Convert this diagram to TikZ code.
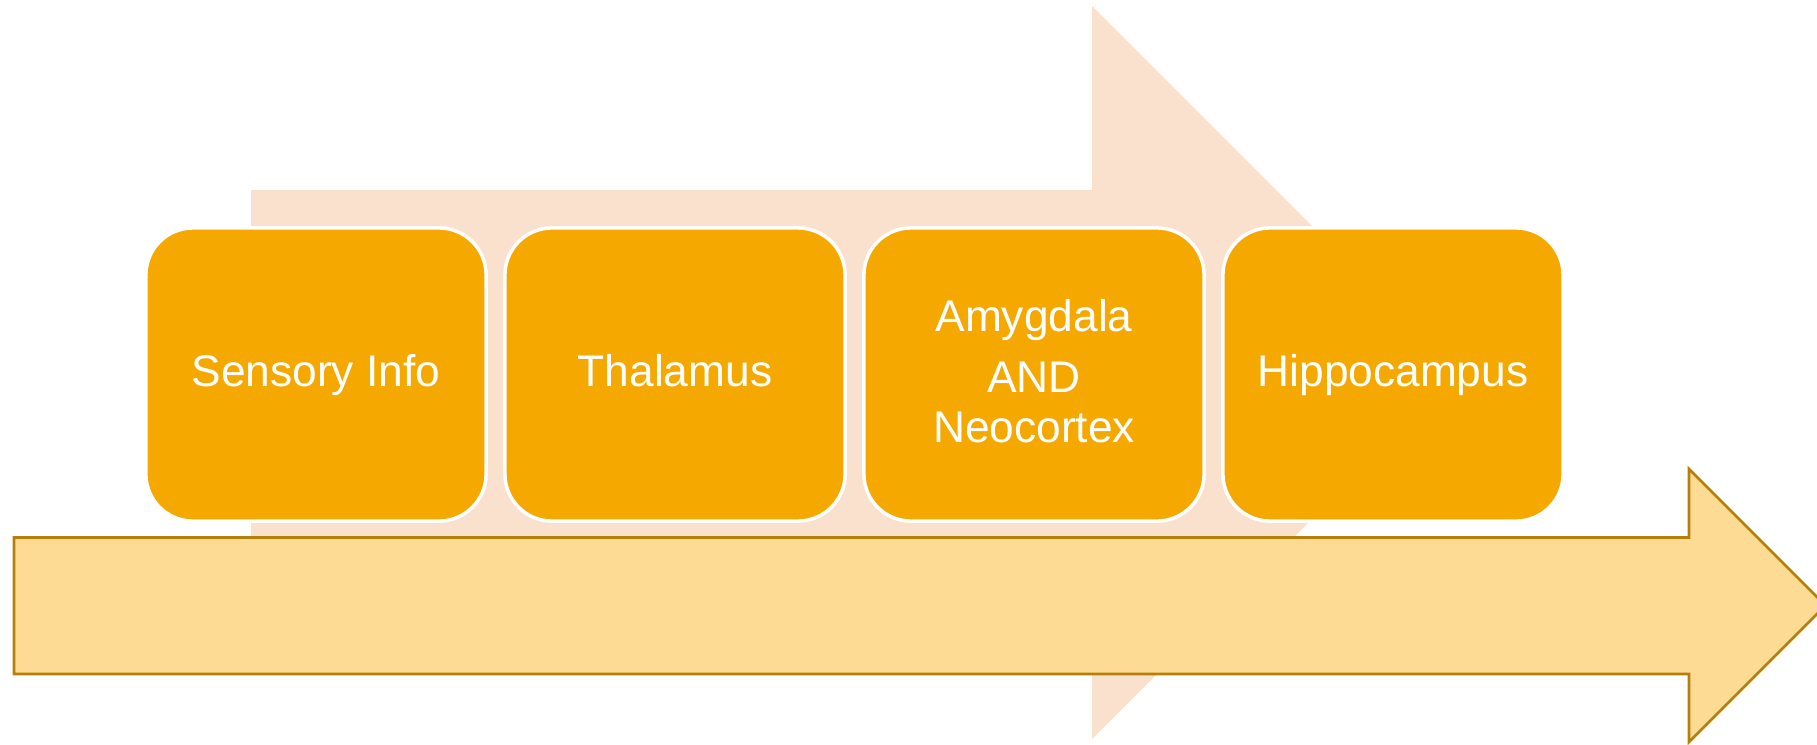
\documentclass[tikz,border=0pt]{standalone}
\usepackage{fontspec}
\setmainfont{Liberation Sans}
\definecolor{peach}{HTML}{FAE1CD}
\definecolor{amber}{HTML}{F5A800}
\definecolor{wheat}{HTML}{FEDB95}
\definecolor{goldrim}{HTML}{B57F0A}
\tikzset{
  stage/.style={rectangle, rounded corners=0.47cm, fill=amber, draw=white,
    line width=1pt, minimum width=3.4cm, minimum height=2.93cm, inner sep=0pt,
    text=white, align=center, text depth=0.21em,
    font=\fontsize{12.6}{14.2}\selectfont},
  flowarrow/.style={fill=wheat, draw=goldrim, line width=0.75pt}
}
\begin{document}
\begin{tikzpicture}[x=0.01cm,y=-0.01cm]
      \useasboundingbox (0,0) rectangle (1817,745);
      % arrow behind the stages
      \fill[peach] (251,190) -- (1092,190) -- (1092,6) -- (1458.5,372.5)
        -- (1092,739) -- (1092,555) -- (251,555) -- cycle;
      \draw
        (316,374.5) node[stage] (sensory){Sensory Info}
        (675,374.5) node[stage] (thalamus){Thalamus}
        (1034,374.5) node[stage] (amygdala){Amygdala\\[3pt]AND\\Neocortex}
        (1393,374.5) node[stage] (hippocampus){Hippocampus};
      % arrow in front
      \draw[flowarrow] (14,537.5) -- (1689,537.5) -- (1689,469) -- (1825.5,605.5)
        -- (1689,742) -- (1689,674) -- (14,674) -- cycle;
    \end{tikzpicture}
\end{document}
